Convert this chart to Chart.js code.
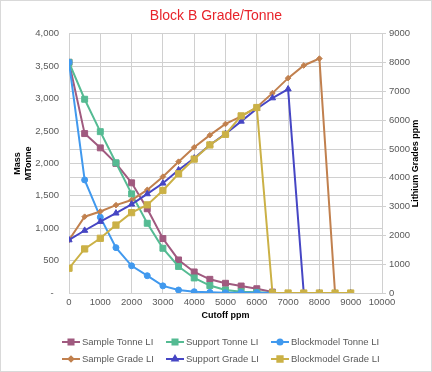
<!DOCTYPE html>
<html>
<head>
<meta charset="utf-8">
<script src="https://cdn.jsdelivr.net/npm/chart.js@4.4.1/dist/chart.umd.min.js"></script>
<style>
    html, body { margin: 0; padding: 0; background: #fff; }
    #areaGrafico { width: 432px; height: 372px; position: relative; }
</style>
</head>
<body>
<div id="areaGrafico"><canvas id="graficoCurva"></canvas></div>
<script>
// Teores de corte (eixo X)
const cortes = [0, 500, 1000, 1500, 2000, 2500, 3000, 3500, 4000, 4500, 5000, 5500, 6000, 6500, 7000, 7500, 8000, 8500, 9000];

// Massa (eixo esquerdo, MTonne)
const sampleTonne     = [3560, 2460, 2240, 2000, 1700, 1300, 840, 510, 325, 211, 150, 108, 66, 15, null, null, null, null, null];
const supportTonne    = [3560, 2990, 2490, 2010, 1530, 1076, 690, 410, 232, 115, 46, 20, 10, 0, null, null, null, null, null];
const blockmodelTonne = [3560, 1745, 1170, 700, 420, 267, 110, 46, 20, 10, 5, 5, 5, 0, null, null, null, null, null];

// Teores (eixo direito, ppm)
const sampleGrade     = [1840, 2650, 2830, 3050, 3230, 3580, 4040, 4560, 5060, 5480, 5870, 6130, 6450, 6940, 7460, 7900, 8140, 0, 0];
const supportGrade    = [1840, 2170, 2480, 2770, 3080, 3440, 3810, 4270, 4680, 5140, 5530, 5960, 6400, 6770, 7080, 0, 0, 0, 0];
const blockmodelGrade = [860, 1530, 1900, 2360, 2790, 3060, 3560, 4140, 4650, 5140, 5510, 6150, 6440, 0, 0, 0, 0, 0, 0];

const nomesSeries = ['Sample Tonne LI', 'Support Tonne LI', 'Blockmodel Tonne LI', 'Sample Grade LI', 'Support Grade LI', 'Blockmodel Grade LI'];

const corGrade = '#d0d0d0';
const corTexto = '#595959';
const fonte = 'Liberation Sans, Arial, sans-serif';

function pontos(valores) {
    return cortes.map((c, i) => ({ x: c, y: valores[i] }));
}

function serie(nome, valores, cor, estilo, raio, eixo, ordem) {
    return {
        label: nome,
        data: pontos(valores),
        yAxisID: eixo,
        borderColor: cor,
        backgroundColor: cor,
        borderWidth: 2,
        pointStyle: estilo,
        pointRadius: raio,
        pointBorderWidth: 1,
        showLine: true,
        spanGaps: false,
        order: ordem // menor ordem = desenhada por cima (como no Excel, a última série fica no topo)
    };
}

const linhas = [
    serie(nomesSeries[0], sampleTonne, '#a05a7f', 'rect', 4.2, 'y', 5),
    serie(nomesSeries[1], supportTonne, '#55bb93', 'rect', 4.2, 'y', 4),
    serie(nomesSeries[2], blockmodelTonne, '#4199ee', 'circle', 3, 'y', 3),
    serie(nomesSeries[3], sampleGrade, '#c1804e', 'rectRot', 2.8, 'y2', 2),
    serie(nomesSeries[4], supportGrade, '#4646c4', 'triangle', 3.6, 'y2', 1),
    serie(nomesSeries[5], blockmodelGrade, '#cbb146', 'rect', 4.4, 'y2', 0)
];

// Moldura, título do eixo direito e legenda em grade de 3 colunas
const extras = {
    id: 'extras',
    afterDraw(chart) {
        const ctx = chart.ctx;
        ctx.save();
        ctx.strokeStyle = '#d9d9d9';
        ctx.lineWidth = 1;
        ctx.strokeRect(0.5, 0.5, chart.width - 1, chart.height - 1);

        const area = chart.chartArea;
        ctx.fillStyle = '#000';
        ctx.font = 'bold 9px ' + fonte;
        ctx.textAlign = 'center';
        ctx.textBaseline = 'middle';
        ctx.translate(416, (area.top + area.bottom) / 2);
        ctx.rotate(-Math.PI / 2);
        ctx.fillText('Lithium Grades ppm', 0, 0);
        ctx.restore();

        const colunas = [62, 166, 271];
        const filas = [342, 359];
        ctx.save();
        ctx.font = '9.5px ' + fonte;
        ctx.textBaseline = 'middle';
        ctx.textAlign = 'left';
        linhas.forEach((ds, i) => {
            const x = colunas[i % 3];
            const y = filas[Math.floor(i / 3)];
            ctx.strokeStyle = ds.borderColor;
            ctx.lineWidth = 2;
            ctx.beginPath();
            ctx.moveTo(x, y);
            ctx.lineTo(x + 18, y);
            ctx.stroke();
            Chart.helpers.drawPoint(ctx, {
                pointStyle: ds.pointStyle,
                radius: ds.pointRadius * 0.85,
                borderWidth: 1,
                rotation: 0
            }, x + 9, y);
            ctx.fillStyle = ds.backgroundColor;
            ctx.fill();
            ctx.fillStyle = corTexto;
            ctx.fillText(ds.label, x + 20, y);
        });
        ctx.restore();
    }
};

const ctx = document.getElementById('graficoCurva').getContext('2d');
new Chart(ctx, {
    type: 'scatter',
    data: { datasets: linhas },
    options: {
        responsive: true,
        maintainAspectRatio: false,
        animation: false,
        layout: { padding: { left: 0, right: 0, top: 0, bottom: 43 } },
        plugins: {
            legend: { display: false },
            tooltip: { enabled: false },
            title: {
                display: true,
                text: 'Block B Grade/Tonne',
                color: '#e8242b',
                font: { size: 14, family: fonte, weight: 'normal' },
                padding: { top: 8, bottom: 9 }
            }
        },
        scales: {
            x: {
                type: 'linear',
                min: 0,
                max: 10000,
                ticks: {
                    stepSize: 1000,
                    autoSkip: false,
                    color: corTexto,
                    font: { size: 9.5, family: fonte },
                    padding: 4,
                    maxRotation: 0,
                    callback: v => String(v)
                },
                grid: { color: corGrade, drawTicks: false },
                border: { color: corGrade },
                title: { display: true, text: 'Cutoff ppm', color: '#000', font: { size: 9, weight: 'bold', family: fonte }, padding: { top: 0, bottom: 8 } },
                afterFit(escala) { escala.height = 36; }
            },
            y: {
                position: 'left',
                min: 0,
                max: 4000,
                ticks: {
                    stepSize: 500,
                    color: corTexto,
                    font: { size: 9.5, family: fonte },
                    padding: 10,
                    callback: v => v === 0 ? '-  ' : v.toLocaleString('en-US')
                },
                grid: { color: corGrade, drawTicks: false },
                border: { color: corGrade },
                title: { display: true, text: ['Mass', 'MTonne'], color: '#000', font: { size: 9, weight: 'bold', family: fonte }, padding: { top: 12, bottom: 0 } },
                afterFit(escala) { escala.width = 69; }
            },
            y2: {
                position: 'right',
                min: 0,
                max: 9000,
                ticks: { stepSize: 1000, color: corTexto, font: { size: 9.5, family: fonte }, padding: 3, callback: v => String(v) },
                grid: { color: corGrade, tickLength: 4 },
                border: { color: corGrade },
                afterFit(escala) { escala.width = 50; }
            }
        }
    },
    plugins: [extras]
});
</script>
</body>
</html>
